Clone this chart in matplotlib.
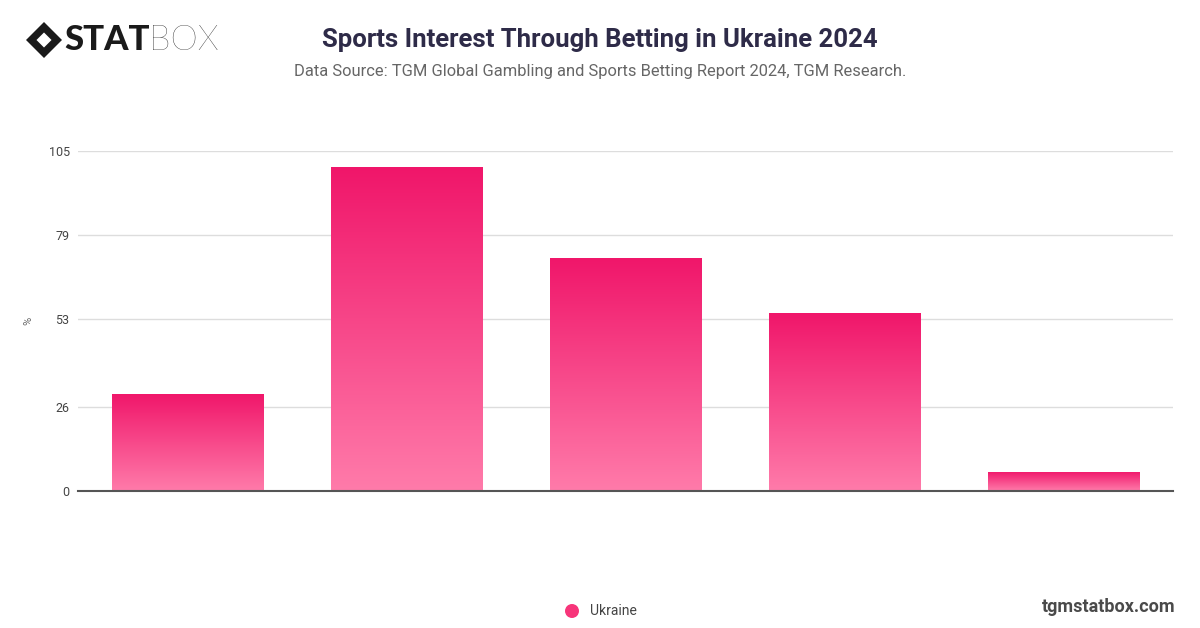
import numpy as np
import matplotlib
matplotlib.use('Agg')
import matplotlib.pyplot as plt
from matplotlib.patches import Polygon, Ellipse
from matplotlib.colors import LinearSegmentedColormap

plt.rcParams['font.family'] = ['Roboto', 'DejaVu Sans']

# data (categories are not labelled in the picture)
positions = [0, 1, 2, 3, 4]
values = [30, 100, 72, 55, 6]
yticks = [0, 26, 53, 79, 105]
series_name = 'Ukraine'

W, H = 1200, 628
fig = plt.figure(figsize=(12, 6.28), dpi=100)
ax = fig.add_axes([0.065, 0.2182, 0.9125, 0.5414])

grad = LinearSegmentedColormap.from_list('pinkgrad', ['#FF7BAA', '#F0166A'])
bars = ax.bar(positions, values, width=0.69, color='none', edgecolor='none', zorder=3)
g = np.linspace(0, 1, 256).reshape(-1, 1)
for b in bars:
    x0, y0 = b.get_x(), b.get_y()
    w, h = b.get_width(), b.get_height()
    im = ax.imshow(g, cmap=grad, aspect='auto', origin='lower',
                   extent=[x0, x0 + w, y0, y0 + h], zorder=3)
    im.set_clip_path(b)

ax.set_xlim(-0.5, 4.5)
ax.set_ylim(0, 105)
ax.set_yticks(yticks)
ax.set_yticklabels([str(t) for t in yticks], fontsize=9, color='#444444')
ax.set_xticks([])
ax.tick_params(axis='y', length=0, pad=6)
ax.grid(axis='y', color='#dddddd', linewidth=1, zorder=0)
for s in ['top', 'right', 'left']:
    ax.spines[s].set_visible(False)
ax.spines['bottom'].set_color('#555555')
ax.spines['bottom'].set_linewidth(1.5)
ax.spines['bottom'].set_zorder(4)
fig.text(28 / W, 1 - 321 / H, '%', rotation=90, ha='center', va='center', fontsize=8, color='#666666')

# titles
fig.text(0.5, 0.936, 'Sports Interest Through Betting in Ukraine 2024', ha='center', va='center',
         fontsize=18.5, fontweight='bold', color='#2E2B48')
fig.text(0.5, 0.886, 'Data Source: TGM Global Gambling and Sports Betting Report 2024, TGM Research.',
         ha='center', va='center', fontsize=11.9, color='#666666')

# logo
cx, cy = 44 / W, 1 - 40 / H
dx, dy = 18 / W, 18 / H
fig.patches.append(Polygon([[cx - dx, cy], [cx, cy + dy], [cx + dx, cy], [cx, cy - dy]],
                           closed=True, transform=fig.transFigure, facecolor='#1a1a1a', edgecolor='none'))
ix, iy = 10 / W, 10 / H
fig.patches.append(Polygon([[cx - ix, cy], [cx, cy + iy], [cx + ix, cy], [cx, cy - iy]],
                           closed=True, transform=fig.transFigure, facecolor='white', edgecolor='#1a1a1a',
                           linewidth=2.5))
fig.text(64 / W, cy, 'STAT', ha='left', va='center', fontsize=25, fontweight='black',
         color='#1a1a1a', family=['Lato', 'DejaVu Sans'])
fig.text(149 / W, cy, 'BOX', ha='left', va='center', fontsize=25, fontweight='light',
         color='#1a1a1a', family=['Lato', 'DejaVu Sans'])

# legend
fig.patches.append(Ellipse((572 / W, 1 - 611 / H), 14 / W, 14 / H, transform=fig.transFigure,
                           facecolor='#F7357A', edgecolor='none'))
fig.text(590 / W, 1 - 611 / H, series_name, ha='left', va='center', fontsize=10, color='#444444')

fig.text(1176 / W, 1 - 607 / H, 'tgmstatbox.com', ha='right', va='center', fontsize=13,
         fontweight='bold', color='#4a4a4a')

fig.savefig('out.png', dpi=100)
